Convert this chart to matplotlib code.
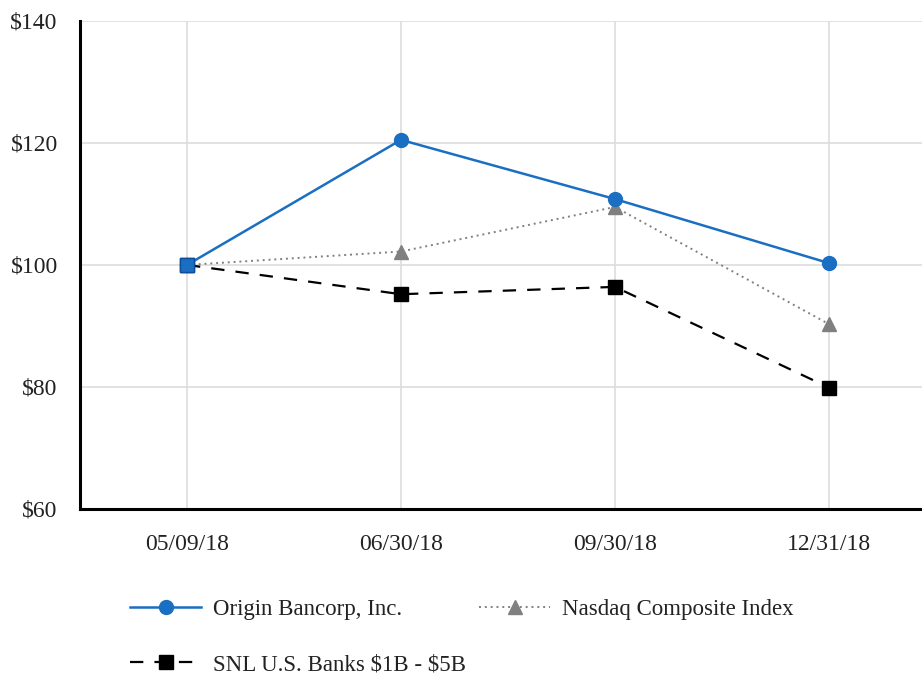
import matplotlib
matplotlib.use("Agg")
import matplotlib.pyplot as plt

dates = ["05/09/18", "06/30/18", "09/30/18", "12/31/18"]
origin = [100.0, 120.5, 110.8, 100.3]
nasdaq = [100.0, 102.2, 109.5, 90.3]
snl = [100.0, 95.2, 96.4, 79.9]
yticks = [60, 80, 100, 120, 140]
ytick_labels = ["$60", "$80", "$100", "$120", "$140"]
labels = ["Origin Bancorp, Inc.", "SNL U.S. Banks \\$1B - \\$5B", "Nasdaq Composite Index"]

plt.rcParams['font.family'] = ['Liberation Serif', 'DejaVu Serif']

fig = plt.figure(figsize=(9.22, 6.75), dpi=100)
ax = fig.add_axes([0.0868, 0.246, 0.9132, 0.723])

x = list(range(len(dates)))
blue = '#1a6fc2'
grey = '#808080'

l_snl, = ax.plot(x, snl, color='black', linestyle=(0, (6, 5)), linewidth=1.6,
                 marker='s', markersize=10, zorder=3)
l_nas, = ax.plot(x, nasdaq, color=grey, linestyle=(0, (1, 2)), linewidth=1.4,
                 marker='^', markersize=10, zorder=4)
l_ori, = ax.plot(x, origin, color=blue, linewidth=1.8,
                 marker='o', markersize=10, zorder=5)
ax.plot(x[:1], origin[:1], color=blue, marker='s', markersize=10,
        markeredgecolor='#0d4f9a', linestyle='none', zorder=6)

ax.set_xlim(-0.5, 3.435)
ax.set_ylim(60, 140)
ax.set_xticks(x)
ax.set_xticklabels(dates, fontsize=17)
ax.set_yticks(yticks)
ax.set_yticklabels(ytick_labels, fontsize=17)
ax.tick_params(axis='both', length=0, colors='#222222')
ax.tick_params(axis='x', pad=18)
ax.tick_params(axis='y', pad=16)

ax.grid(True, color='#dddddd', linewidth=1.2, zorder=0)
ax.set_axisbelow(True)
for s in ['top', 'right']:
    ax.spines[s].set_visible(False)
ax.spines['left'].set_linewidth(2.2)
ax.spines['bottom'].set_linewidth(2.2)
ax.spines['left'].set_color('black')
ax.spines['bottom'].set_color('black')

leg = fig.legend([l_ori, l_snl, l_nas], labels,
                 ncol=2, loc='upper left', bbox_to_anchor=(0.141, 0.113),
                 frameon=False, fontsize=16.5, handlelength=3.1, handletextpad=0.5,
                 labelspacing=1.5, columnspacing=0.6, borderaxespad=0, borderpad=0)
for t in leg.get_texts():
    t.set_color('#222222')

fig.savefig("out.png", dpi=100)
